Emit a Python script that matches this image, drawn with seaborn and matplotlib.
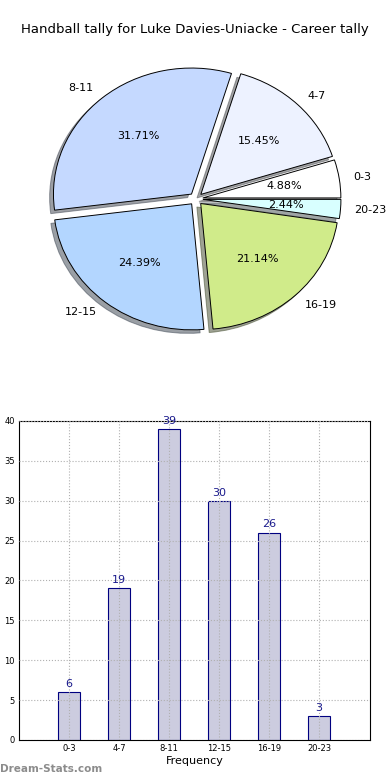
import numpy as np
import pandas as pd
import seaborn as sns
import matplotlib
matplotlib.use("Agg")
import matplotlib.pyplot as plt

sns.set_style("white")
plt.rcParams['font.family'] = ['DejaVu Sans']
plt.rcParams.update({'text.color': 'black', 'axes.labelcolor': 'black',
                     'xtick.color': 'black', 'ytick.color': 'black'})

# data
categories = ['0-3', '4-7', '8-11', '12-15', '16-19', '20-23']
tally = [6, 19, 39, 30, 26, 3]
pie_colors = ['#ffffff', '#edf2ff', '#c5d9ff', '#b3d6ff', '#d0eb8a', '#d8ffff']
title = 'Handball tally for Luke Davies-Uniacke - Career tally'

fig = plt.figure(figsize=(3.9, 7.8), dpi=100)

# pie
ax1 = fig.add_axes([0.060, 0.543, 0.885, 0.404])
wedges, texts, autotexts = ax1.pie(
    tally, labels=categories, colors=pie_colors, startangle=0,
    explode=[0.05] * len(tally), shadow=True, autopct='%1.2f%%',
    pctdistance=0.6, labeldistance=1.1,
    wedgeprops=dict(edgecolor='black', linewidth=0.7),
    textprops=dict(fontsize=8, color='black'))
ax1.set_aspect('auto')
ax1.set_xlim(-1.25, 1.25)
ax1.set_ylim(-1.25, 1.25)
fig.text(0.5, 0.962, title, ha='center', va='center', fontsize=9.5)

# bars
df = pd.DataFrame({'cat': categories, 'n': tally})
ax2 = fig.add_axes([0.0487, 0.0513, 0.9, 0.409])
sns.barplot(data=df, x='cat', y='n', ax=ax2, color='#ccccdf', saturation=1,
            edgecolor='#000080', linewidth=0.8, width=0.45, zorder=2)
ax2.set_xlim(-1, 6.02)
ax2.set_ylim(0, 40)
ax2.set_yticks(range(0, 41, 5))
ax2.grid(True, linestyle=':', color='#b0b0b0', linewidth=0.8, zorder=0)
ax2.set_axisbelow(False)
for line in ax2.get_xgridlines() + ax2.get_ygridlines():
    line.set_zorder(3)
for sp in ax2.spines.values():
    sp.set_color('black')
    sp.set_linewidth(0.8)
ax2.tick_params(labelsize=6, direction='in', length=3, pad=3)
ax2.set_xlabel('Frequency', fontsize=8, labelpad=2)
ax2.set_ylabel('')
for i, v in enumerate(tally):
    ax2.text(i, v + 0.4, str(v), ha='center', va='bottom', fontsize=8, color='#1a1a8c')

fig.text(0.0, 0.01, 'Dream-Stats.com', fontsize=7.5, color='#8c8c8c', fontweight='bold')

plt.savefig('out.png', dpi=100)
